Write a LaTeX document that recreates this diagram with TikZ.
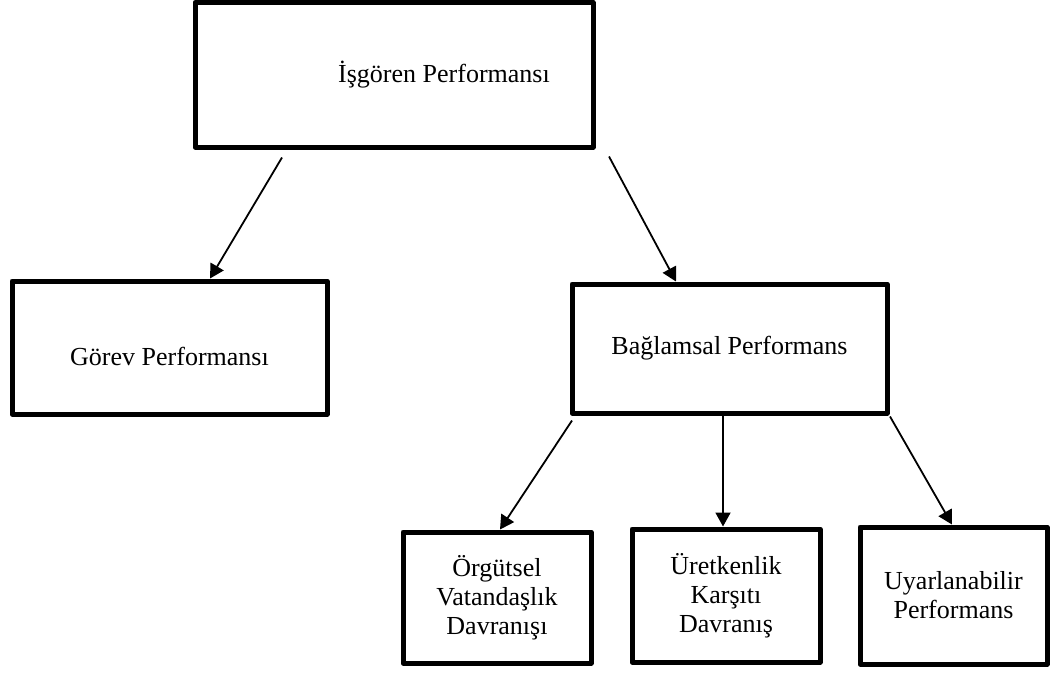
\documentclass[tikz,border=0pt]{standalone}
\usepackage{fontspec}
\setmainfont{Liberation Serif}
\usetikzlibrary{arrows.meta}
\begin{document}
\begin{tikzpicture}[x=1pt,y=-1pt,
  txt/.style={font=\fontsize{26}{29}\selectfont},
  box/.style={draw, line width=5pt, line join=round, inner sep=0pt,
              align=center, txt},
  arr/.style={line width=1.8pt, -{Triangle[length=14pt,width=15pt]}}]
\useasboundingbox[fill=white] (0,0) rectangle (1051,673);

% top level
\node[box, minimum width=398pt, minimum height=144.5pt,
      label={[txt, xshift=50pt]center:İşgören Performansı}] (top) at (394,74.75) {};

% second level
\node[box, minimum width=315pt, minimum height=133pt,
      label={[txt, yshift=-9pt]center:Görev Performansı}] (gorev) at (169.5,347.5) {};
\node[box, minimum width=315pt, minimum height=129pt] (bag) at (729.5,348.5) {Bağlamsal Performans};

% third level
\node[box, minimum width=188pt, minimum height=131pt] (org) at (497,597.5)
     {Örgütsel\\Vatandaşlık\\Davranışı};
\node[box, minimum width=188pt, minimum height=133pt] (uret) at (726,595.5)
     {Üretkenlik\\Karşıtı\\Davranış};
\node[box, minimum width=187pt, minimum height=137pt] (uyar) at (953.5,595.5)
     {Uyarlanabilir\\Performans};

% connectors
\draw[arr] ([xshift=-112pt,yshift=-8pt]top.south) -- ([xshift=40.5pt]gorev.north);
\draw[arr] ([xshift=215pt,yshift=-7pt]top.south) -- ([xshift=-53.5pt]bag.north);
\draw[arr] ([xshift=-157.5pt,yshift=-5pt]bag.south) -- ([xshift=3pt]org.north);
\draw[arr] ([xshift=-6.5pt]bag.south) -- ([xshift=-3pt]uret.north);
\draw[arr] ([xshift=160.5pt,yshift=-1pt]bag.south) -- ([xshift=-1.5pt]uyar.north);
\end{tikzpicture}
\end{document}
